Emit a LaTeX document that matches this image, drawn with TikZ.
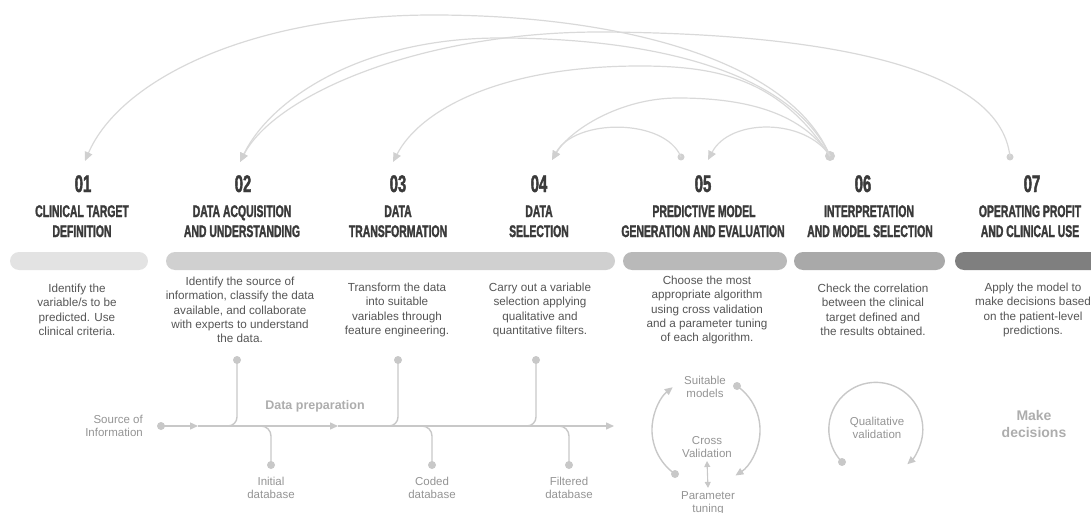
\documentclass[tikz,border=0pt]{standalone}
\usepackage{fontspec}
\setmainfont{Liberation Sans}
\newfontfamily\headfont[FakeStretch=0.62, BoldFeatures={FakeBold=1.6}]{Liberation Sans}
\usetikzlibrary{arrows.meta,calc}
\definecolor{arcc}{HTML}{D9D9D9}
\definecolor{arca}{HTML}{D0D0D0}
\definecolor{flowc}{HTML}{C8C8C8}
\definecolor{headc}{HTML}{3A3A3A}
\definecolor{bodyc}{HTML}{555555}
\definecolor{lblc}{HTML}{949494}
\definecolor{softc}{HTML}{ADADAD}
\definecolor{barA}{HTML}{E3E3E3}
\definecolor{barB}{HTML}{D0D0D0}
\definecolor{barC}{HTML}{B9B9B9}
\definecolor{barD}{HTML}{A9A9A9}
\definecolor{barE}{HTML}{7F7F7F}
\begin{document}
\begin{tikzpicture}[x=1pt,y=-1pt,
  arcl/.style={draw=arcc, line width=1.2pt, -{Triangle[length=9pt,width=8pt,color=arca]}},
  adot/.style={circle, fill=arca, inner sep=0pt, minimum size=7pt},
  flowl/.style={draw=flowc, line width=1.4pt},
  ftip/.style={-{Triangle[length=8pt,width=7pt,color=flowc]}},
  fdot/.style={circle, fill=flowc, inner sep=0pt, minimum size=8pt},
  num/.style={font=\headfont\bfseries\fontsize{24pt}{24pt}\selectfont, text=headc, inner sep=0pt, anchor=base},
  hd/.style={font=\headfont\bfseries\fontsize{16.8pt}{20pt}\selectfont, text=headc, inner sep=0pt, anchor=base},
  body/.style={font=\fontsize{11.7pt}{14.4pt}\selectfont, text=bodyc, align=center, inner sep=0pt},
  lbl/.style={font=\fontsize{11.5pt}{13.5pt}\selectfont, text=lblc, align=center, inner sep=0pt},
  soft/.style={font=\bfseries\fontsize{12.5pt}{15pt}\selectfont, text=softc, align=center, inner sep=0pt},
  bar/.style={rounded corners=9pt}
]
\useasboundingbox (0,0) rectangle (1091,513);

% ---------- feedback arcs ----------
\node[adot, minimum size=10pt] (d06) at (830,156) {};
\node[adot] (d05) at (681,157) {};
\node[adot] (d07) at (1010,157) {};
\coordinate (t01) at (85,161);
\coordinate (t02) at (240,162);
\coordinate (t03) at (393,162);
\coordinate (t04) at (552,160);
\coordinate (t05) at (708,160);

\draw[arcl] (d06.center) .. controls (790,60) and (620,15) .. (433,15) .. controls (250,15) and (120,80) .. (t01);
\draw[arcl] (d06.center) .. controls (790,70) and (650,38) .. (500,38) .. controls (360,38) and (270,100) .. (t02);
\draw[arcl] (d07.center) .. controls (1000,60) and (800,33) .. (600,32) .. controls (420,32) and (275,95) .. (t02);
\draw[arcl] (d06.center) .. controls (780,80) and (720,66) .. (640,66) .. controls (500,66) and (420,110) .. (t03);
\draw[arcl] (d06.center) .. controls (800,110) and (740,98) .. (678,98) .. controls (620,98) and (570,130) .. (t04);
\draw[arcl] (d05.center) .. controls (665,118) and (575,118) .. (t04);
\draw[arcl] (d06.center) .. controls (805,118) and (730,118) .. (t05);

% ---------- headings ----------
\node[num] (n01) at (83,192) {01};
\node[num] (n02) at (243,192) {02};
\node[num] (n03) at (398,192) {03};
\node[num] (n04) at (539,192) {04};
\node[num] (n05) at (703,192) {05};
\node[num] (n06) at (863,192) {06};
\node[num] (n07) at (1032,192) {07};

\node[hd] (h01a) at (82,217) {CLINICAL TARGET};
\node[hd] (h01b) at (82,237) {DEFINITION};
\node[hd] (h02a) at (242,217) {DATA ACQUISITION};
\node[hd] (h02b) at (242,237) {AND UNDERSTANDING};
\node[hd] (h03a) at (398,217) {DATA};
\node[hd] (h03b) at (398,237) {TRANSFORMATION};
\node[hd] (h04a) at (539,217) {DATA};
\node[hd] (h04b) at (539,237) {SELECTION};
\node[hd] (h05a) at (704,217) {PREDICTIVE MODEL};
\node[hd] (h05b) at (703,237) {GENERATION AND EVALUATION};
\node[hd] (h06a) at (869,217) {INTERPRETATION};
\node[hd] (h06b) at (870,237) {AND MODEL SELECTION};
\node[hd] (h07a) at (1030,217) {OPERATING PROFIT};
\node[hd] (h07b) at (1030,237) {AND CLINICAL USE};

% ---------- bars ----------
\fill[barA, bar] (10,252) rectangle (148,270);
\fill[barB, bar] (166,252) rectangle (615,270);
\fill[barC, bar] (623,252) rectangle (787,270);
\fill[barD, bar] (794,252) rectangle (945,270);
\fill[barE, bar] (955,252) rectangle (1110,270);

% ---------- descriptions ----------
\node[body] (b01) at (77,310) {Identify the\\variable/s to be\\predicted. Use\\clinical criteria.};
\node[body] (b02) at (240,310) {Identify the source of\\information, classify the data\\available, and collaborate\\with experts to understand\\the data.};
\node[body] (b03) at (397,310) {Transform the data\\into suitable\\variables through\\feature engineering.};
\node[body] (b04) at (540,310) {Carry out a variable\\selection applying\\qualitative and\\quantitative filters.};
\node[body] (b05) at (707,310) {Choose the most\\appropriate algorithm\\using cross validation\\and a parameter tuning\\of each algorithm.};
\node[body] (b06) at (873,310) {Check the correlation\\between the clinical\\target defined and\\the results obtained.};
\node[body] (b07) at (1033,310) {Apply the model to\\make decisions based\\on the patient-level\\predictions.};

% ---------- data preparation flow ----------
\node[fdot] (src) at (161,426) {};
\coordinate (fa1) at (198,426);
\coordinate (fa2) at (338,426);
\coordinate (fend) at (614,426);
\draw[flowl, ftip] (src.center) -- (fa1);
\draw[flowl, ftip] (fa1) -- (fa2);
\draw[flowl, ftip] (fa2) -- (fend);

\node[fdot] (u1) at (237,360) {};
\node[fdot] (u2) at (398,360) {};
\node[fdot] (u3) at (536,360) {};
\draw[flowl, rounded corners=9pt] (u1.center) |- (218,426);
\draw[flowl, rounded corners=9pt] (u2.center) |- (379,426);
\draw[flowl, rounded corners=9pt] (u3.center) |- (517,426);

\node[fdot] (w1) at (271,465) {};
\node[fdot] (w2) at (432,465) {};
\node[fdot] (w3) at (569,465) {};
\draw[flowl, rounded corners=10pt] (252,426) -| (w1.center);
\draw[flowl, rounded corners=10pt] (413,426) -| (w2.center);
\draw[flowl, rounded corners=10pt] (550,426) -| (w3.center);

\node[lbl, align=right, anchor=east] (srcl) at (143,426) {Source of\\Information};
\node[soft] (dprep) at (315,406) {Data preparation};
\node[lbl] (l1) at (271,488) {Initial\\database};
\node[lbl] (l2) at (432,488) {Coded\\database};
\node[lbl] (l3) at (569,488) {Filtered\\database};

% ---------- model cycle ----------
\node[fdot] (cd1) at (675,474) {};
\node[fdot] (cd2) at (737,386) {};
\draw[flowl, ftip] (cd1.center) arc[start angle=-125, end angle=-232, radius=54pt];
\draw[flowl, ftip] (cd2.center) arc[start angle=55, end angle=-57, radius=54pt];
\node[lbl] (suit) at (705,387) {Suitable\\models};
\node[lbl] (crossv) at (707,447) {Cross\\Validation};
\node[lbl] (param) at (708,503) {Parameter\\tuning};
\draw[flowl, line width=1.1pt, {Triangle[length=6pt,width=6pt,color=flowc]}-{Triangle[length=6pt,width=6pt,color=flowc]}] ($(crossv.south)+(0,3)$) -- ($(param.north)+(0,-3)$);

% ---------- qualitative validation ----------
\node[fdot] (qd) at (842,462) {};
\draw[flowl, ftip] (qd.center) arc[start angle=-136, end angle=-408, radius=47pt];
\node[lbl] (qual) at (877,428) {Qualitative\\validation};

% ---------- make decisions ----------
\node[soft, font=\bfseries\fontsize{14pt}{17pt}\selectfont] (make) at (1034,424) {Make\\decisions};
\end{tikzpicture}
\end{document}
